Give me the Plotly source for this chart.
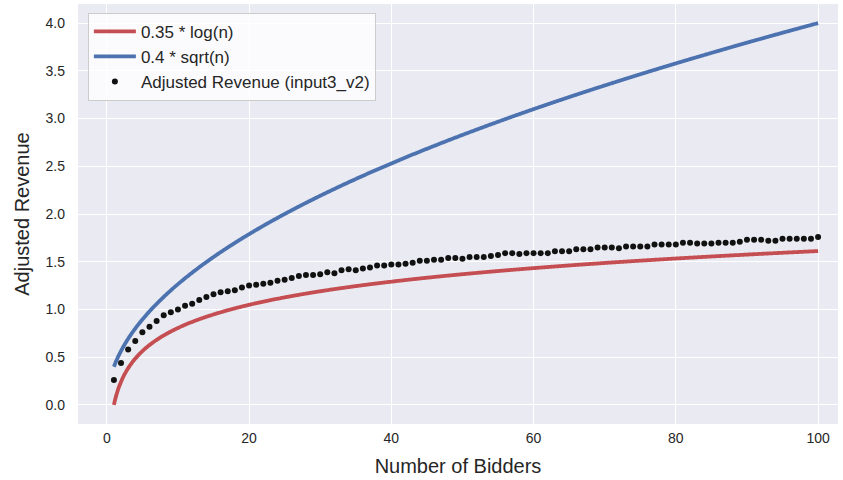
import numpy as np
import plotly.graph_objects as go

# Number of bidders and the measured adjusted revenue (input3_v2)
bidders = list(range(1, 101))
adjusted_revenue = [
    0.26, 0.44, 0.58, 0.67, 0.76, 0.82, 0.88, 0.94, 0.97, 1.00, 1.04, 1.06, 1.10,
    1.13, 1.16, 1.18, 1.19, 1.20, 1.23, 1.25, 1.26, 1.27, 1.28, 1.30, 1.31, 1.33, 1.35,
    1.36, 1.36, 1.37, 1.39, 1.38, 1.41, 1.42, 1.41, 1.43, 1.44, 1.46, 1.46, 1.47,
    1.47, 1.48, 1.49, 1.51, 1.51, 1.52, 1.52, 1.54, 1.54, 1.53, 1.55, 1.55, 1.55,
    1.56, 1.57, 1.59, 1.59, 1.58, 1.59, 1.59, 1.59, 1.59, 1.61, 1.61, 1.61, 1.63, 1.63,
    1.63, 1.65, 1.65, 1.65, 1.64, 1.66, 1.66, 1.66, 1.66, 1.68, 1.68, 1.68, 1.68,
    1.70, 1.70, 1.69, 1.69, 1.69, 1.70, 1.70, 1.70, 1.71, 1.73, 1.73, 1.73, 1.72,
    1.72, 1.74, 1.74, 1.74, 1.74, 1.74, 1.76,
]

# Reference curves, as named in the legend
log_coef = 0.35
sqrt_coef = 0.4
n_curve = np.linspace(1, 100, 600)
log_curve = log_coef * np.log(n_curve)
sqrt_curve = sqrt_coef * np.sqrt(n_curve)

y_ticks = [0.0, 0.5, 1.0, 1.5, 2.0, 2.5, 3.0, 3.5, 4.0]
x_ticks = [0, 20, 40, 60, 80, 100]

TEXT = "#262626"
FONT = "Liberation Sans, Arial, sans-serif"

fig = go.Figure()
fig.add_trace(go.Scatter(
    x=n_curve, y=log_curve, mode="lines", name="0.35 * log(n)",
    line=dict(color="#C44E52", width=3.8, shape="spline"),
))
fig.add_trace(go.Scatter(
    x=n_curve, y=sqrt_curve, mode="lines", name="0.4 * sqrt(n)",
    line=dict(color="#4C72B0", width=3.8, shape="spline"),
))
fig.add_trace(go.Scatter(
    x=bidders, y=adjusted_revenue, mode="markers", name="Adjusted Revenue (input3_v2)",
    marker=dict(color="#111111", size=6),
))

fig.update_layout(
    width=843, height=480,
    margin=dict(l=78, r=5, t=4, b=56),
    paper_bgcolor="white",
    plot_bgcolor="#EAEAF2",
    font=dict(family=FONT, color=TEXT, size=14),
    showlegend=True,
    legend=dict(
        x=0.013, y=0.979, xanchor="left", yanchor="top",
        bgcolor="rgba(255,255,255,0.8)", bordercolor="#CCCCCC", borderwidth=1,
        font=dict(size=17, color=TEXT, family=FONT),
        itemwidth=42,
    ),
    xaxis=dict(
        range=[-4.05, 102.8], tickvals=x_ticks, ticktext=[str(v) for v in x_ticks],
        showgrid=True, gridcolor="white", gridwidth=1.3, zeroline=False,
        showline=False, ticks="", ticklabelstandoff=4,
        title=dict(text="Number of Bidders", font=dict(size=20, color=TEXT), standoff=13),
    ),
    yaxis=dict(
        range=[-0.2, 4.2], tickvals=y_ticks, ticktext=[f"{v:.1f}" for v in y_ticks],
        showgrid=True, gridcolor="white", gridwidth=1.3, zeroline=False,
        showline=False, ticks="", ticklabelstandoff=12,
        title=dict(text="Adjusted Revenue", font=dict(size=20, color=TEXT), standoff=10),
    ),
)

fig.write_html("out.html")
